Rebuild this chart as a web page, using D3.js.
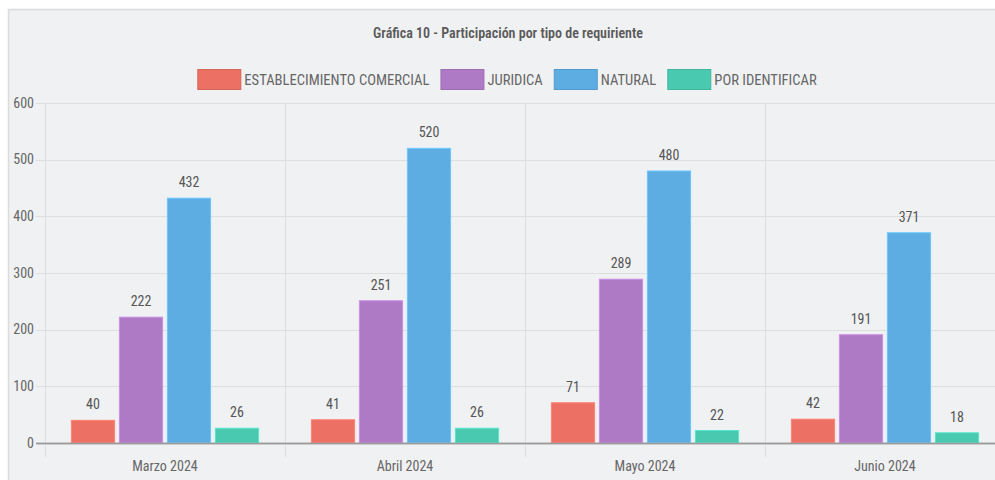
<!DOCTYPE html>
<html><head><meta charset="utf-8">
<script src="https://cdn.jsdelivr.net/npm/d3@7"></script>
<style>
html,body{margin:0;padding:0;background:#fff;}
svg{display:block;font-family:"Liberation Sans Narrow","Roboto Condensed","Arial Narrow",sans-serif;}
</style></head>
<body>
<svg id="c" width="995" height="480"></svg>
<script>
const title = "Gráfica 10 - Participación por tipo de requiriente";
const categories = ["Marzo 2024", "Abril 2024", "Mayo 2024", "Junio 2024"];
const seriesNames = ["ESTABLECIMIENTO COMERCIAL", "JURIDICA", "NATURAL", "POR IDENTIFICAR"];
const seriesColors = ["#EC7063", "#AF7AC5", "#5DADE2", "#48C9B0"];
const establecimiento = [40, 41, 71, 42];
const juridica = [222, 251, 289, 191];
const natural = [432, 520, 480, 371];
const porIdentificar = [26, 26, 22, 18];
const yTicks = [0, 100, 200, 300, 400, 500, 600];

const seriesValues = [establecimiento, juridica, natural, porIdentificar];
const svg = d3.select("#c");

// panel
svg.append("rect").attr("x", 8.5).attr("y", 9.5).attr("width", 1000).attr("height", 480)
  .attr("fill", "#f0f1f3").attr("stroke", "#dcdcdc").attr("stroke-width", 1.5);

const pLeft = 45, pRight = 1005, pTop = 103, pBottom = 443;
const x = d3.scaleBand().domain(categories).range([pLeft, pRight]).padding(0);
const xs = d3.scaleBand().domain(seriesNames)
  .range([x.bandwidth() * 0.1, x.bandwidth() * 0.9]).paddingInner(0.1).paddingOuter(0.05);
const y = d3.scaleLinear().domain([0, 600]).range([pBottom, pTop]);

// title
svg.append("text").attr("x", 508).attr("y", 38).attr("text-anchor", "middle")
  .attr("font-size", 14).attr("font-weight", 600).attr("fill", "#5a5a5a").text(title);

// legend
const lg = svg.append("g");
let lx = 0;
seriesNames.forEach((n, i) => {
  const g = lg.append("g").attr("transform", `translate(${lx},0)`);
  g.append("rect").attr("x", 0.5).attr("y", 69.5).attr("width", 43).attr("height", 20)
    .attr("fill", seriesColors[i]).attr("stroke", d3.color(seriesColors[i]).darker(0.3)).attr("stroke-width", 1);
  const t = g.append("text").attr("x", 47).attr("y", 85).attr("font-size", 14.6).attr("fill", "#666").text(n);
  const w = t.node().getComputedTextLength();
  lx += 47 + w + 11;
});
const lgWidth = lx - 11;
lg.attr("transform", `translate(${507 - lgWidth / 2},0)`);

// y grid & ticks
const yg = svg.append("g");
yTicks.forEach(t => {
  yg.append("line").attr("x1", 36).attr("x2", pRight).attr("y1", Math.round(y(t)) + 0.5).attr("y2", Math.round(y(t)) + 0.5)
    .attr("stroke", t === 0 ? "#9a9a9a" : "#dedede").attr("stroke-width", t === 0 ? 1.5 : 1);
  yg.append("text").attr("x", 34).attr("y", y(t) + 4.5).attr("text-anchor", "end")
    .attr("font-size", 14).attr("fill", "#666").text(t);
});

// x grid
const xTicks = categories.map(c => x(c)).concat([pRight]);
xTicks.forEach(px => {
  svg.append("line").attr("x1", px + 0.5).attr("x2", px + 0.5).attr("y1", pTop).attr("y2", 457)
    .attr("stroke", "#dedede").attr("stroke-width", 1);
});
categories.forEach(c => {
  svg.append("text").attr("x", x(c) + x.bandwidth() / 2).attr("y", 471).attr("text-anchor", "middle")
    .attr("font-size", 14).attr("fill", "#666").text(c);
});

// bars
seriesNames.forEach((n, si) => {
  const g = svg.append("g");
  categories.forEach((c, ci) => {
    const v = seriesValues[si][ci];
    const bx = x(c) + xs(n);
    g.append("rect").attr("x", bx).attr("y", y(v)).attr("width", xs.bandwidth()).attr("height", y(0) - y(v))
      .attr("fill", seriesColors[si]).attr("stroke", d3.color(seriesColors[si]).brighter(0.4)).attr("stroke-width", 1);
    g.append("text").attr("x", bx + xs.bandwidth() / 2).attr("y", y(v) - 11).attr("text-anchor", "middle")
      .attr("font-size", 14).attr("fill", "#555").text(v);
  });
});
svg.append("line").attr("x1", 36).attr("x2", pRight).attr("y1", Math.round(y(0)) + 0.5).attr("y2", Math.round(y(0)) + 0.5)
  .attr("stroke", "#9a9a9a").attr("stroke-width", 1.5);
</script>
</body></html>
